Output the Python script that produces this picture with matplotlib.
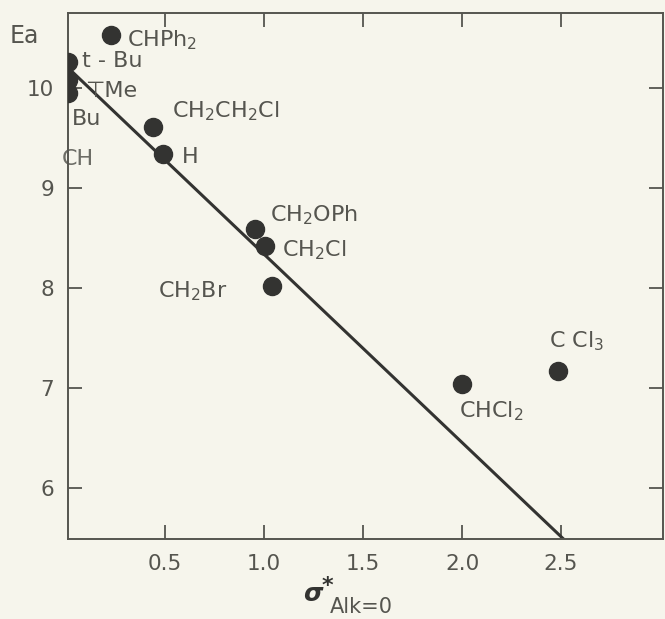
import matplotlib
matplotlib.use('Agg')
import matplotlib.pyplot as plt

# Du lieu doc tu hinh
substituents = ['CHPh$_2$', 't - Bu', '⊤Me', 'Bu', 'CH$_2$CH$_2$Cl', 'H',
                'CH$_2$OPh', 'CH$_2$Cl', 'CH$_2$Br', 'CHCl$_2$', 'C Cl$_3$']
sigma = [0.227, 0.01, 0.01, 0.01, 0.44, 0.49, 0.955, 1.005, 1.04, 2.0, 2.485]
ea = [10.53, 10.26, 10.08, 9.955, 9.61, 9.34, 8.59, 8.42, 8.02, 7.04, 7.17]

# Duong hoi quy
fit_x = [0.03, 2.51]
fit_y = [10.165, 5.5]

x_ticks = [0.5, 1.0, 1.5, 2.0, 2.5]
x_tick_labels = ['0.5', '1.0', '1.5', '2.0', '2.5']
y_ticks = [6, 7, 8, 9, 10]
y_tick_labels = ['6', '7', '8', '9', '10']

# Vi tri chu (x, y baseline) trong toa do du lieu
label_pos = [(0.308, 10.415), (0.08, 10.215), (0.095, 9.915), (0.03, 9.635),
             (0.535, 9.705), (0.586, 9.255), (1.03, 8.67), (1.09, 8.32),
             (0.465, 7.905), (1.985, 6.71), (2.44, 7.41)]

bg = '#f6f5ec'
ink = '#55554f'
dark = '#333331'

plt.rcParams['font.family'] = ['DejaVu Sans']
plt.rcParams['mathtext.fontset'] = 'dejavusans'

fig = plt.figure(figsize=(6.65, 6.19), dpi=100, facecolor=bg)
ax = fig.add_axes([0.1023, 0.130, 0.8947, 0.849], facecolor=bg)

ax.plot(fit_x, fit_y, color=dark, linewidth=2.2, zorder=2)
ax.plot(sigma, ea, 'o', color=dark, markersize=13, zorder=3)

for lab, (lx, ly) in zip(substituents, label_pos):
    ax.text(lx, ly, lab, fontsize=16, color=ink, ha='left', va='baseline')
ax.text(-0.02, 9.235, 'CH', fontsize=16, color=ink, ha='left', va='baseline',
        alpha=0.85)

ax.set_xlim(0.01, 3.015)
ax.set_ylim(5.5, 10.75)
ax.set_xticks(x_ticks)
ax.set_xticklabels(x_tick_labels)
ax.set_yticks(y_ticks)
ax.set_yticklabels(y_tick_labels)
ax.tick_params(axis='both', direction='in', length=10, width=1.3, color=ink,
               labelcolor=ink, labelsize=15.5, top=True, right=True)
ax.tick_params(axis='x', pad=11)
ax.tick_params(axis='y', pad=10)
for s in ax.spines.values():
    s.set_color(ink)
    s.set_linewidth(1.4)

fig.text(10 / 665, 1 - 43 / 619, 'Ea', fontsize=17, color=ink, va='baseline')
fig.text(303 / 665, 1 - 601 / 619, 'σ', fontsize=18, color=dark,
         fontweight='bold', style='italic', va='baseline')
fig.text(322 / 665, 1 - 592 / 619, '*', fontsize=16, color=dark,
         fontweight='bold', va='baseline')
fig.text(330 / 665, 1 - 613 / 619, 'Alk=0', fontsize=15, color=ink,
         va='baseline')

plt.savefig('out.png', dpi=100, facecolor=bg)
